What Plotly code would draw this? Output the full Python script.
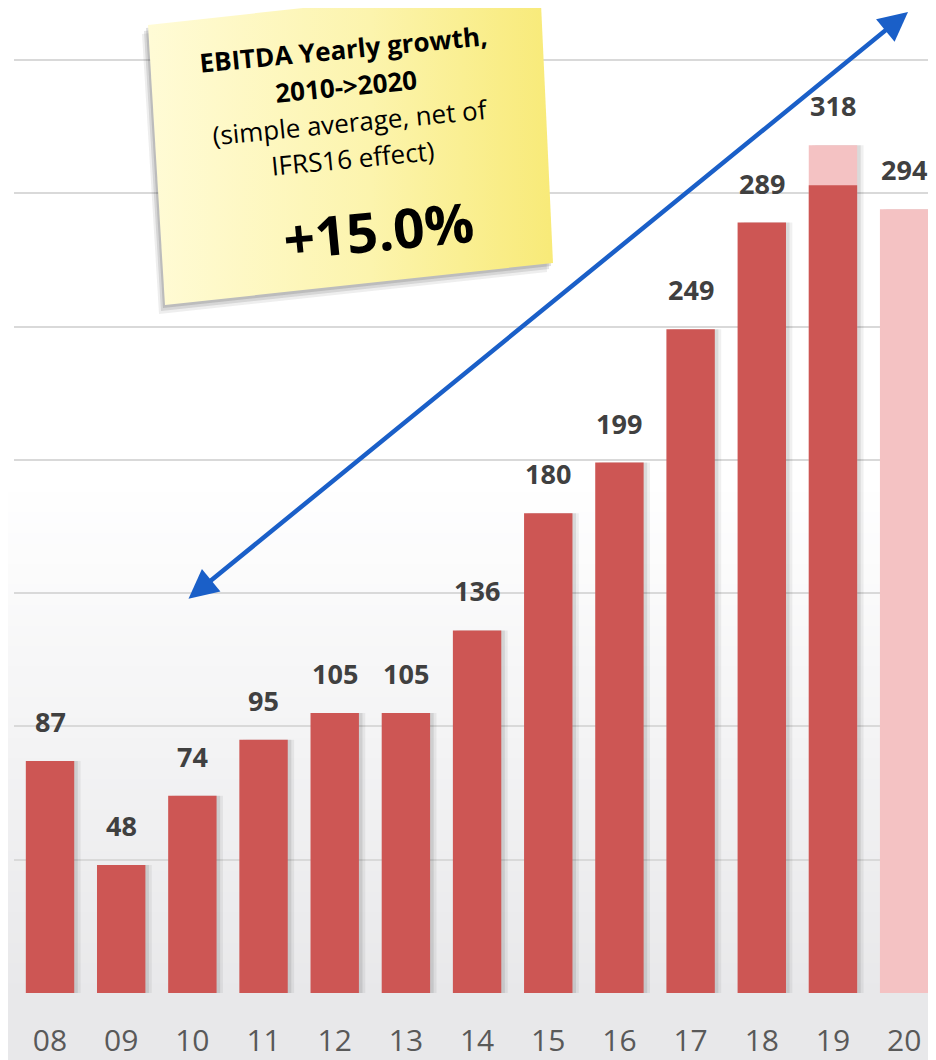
import plotly.graph_objects as go

# ---- data ----
years = ["08", "09", "10", "11", "12", "13", "14", "15", "16", "17", "18", "19", "20"]
ebitda_net = [87, 48, 74, 95, 105, 105, 136, 180, 199, 249, 289, 303, None]   # net of IFRS16 (dark)
ebitda_total = [87, 48, 74, 95, 105, 105, 136, 180, 199, 249, 289, 318, 294]  # reported (labels)
light_years = ["19", "20"]
light_values = [318, 294]

# page body adds an 8px offset; figure pixels = reference pixels - 8
OFF = 8
W, H = 936, 1060
ML, MR, MT, MB = 6, 0, 0, 75
XR = (-0.506, 12.56)
YR = (0, 369.5)
pw, ph = W - ML - MR, H - MT - MB
sx = pw / (XR[1] - XR[0])
sy = ph / (YR[1] - YR[0])


def px2x(px):
    return (px - OFF - ML) / sx + XR[0]


def px2y(py):
    return (H - MB - (py - OFF)) / sy


xi = list(range(len(years)))
light_x = [years.index(y) for y in light_years]

DARK = "#cd5654"
LIGHT = "#f4c2c3"

fig = go.Figure()

# background gradient (paper bands, bottom grey -> white at mid height)
shapes = []
n = 50
top_c = (255, 255, 255)
bot_c = (232, 232, 234)
span = 0.52
for i in range(n):
    y0 = span * i / n
    y1 = span * (i + 1) / n
    t = (i + 0.5) / n
    c = tuple(round(bot_c[k] + (top_c[k] - bot_c[k]) * t) for k in range(3))
    shapes.append(dict(type="rect", xref="paper", yref="paper", x0=-0.05, x1=1.05,
                       y0=y0 - 0.001 - (0.2 if i == 0 else 0), y1=y1 + 0.001,
                       fillcolor="rgb(%d,%d,%d)" % c, line=dict(width=0), layer="below"))

bw = 0.68
# bar shadows (soft, two layers)
for off, a in [(0.09, 0.06), (0.05, 0.09)]:
    fig.add_trace(go.Bar(x=xi, y=ebitda_total, width=bw, offset=-bw / 2 + off,
                         marker=dict(color="rgba(0,0,0,%.2f)" % a, line=dict(width=0)),
                         hoverinfo="skip", showlegend=False))
# light (IFRS16-inclusive) bars
fig.add_trace(go.Bar(x=light_x, y=light_values, width=bw, offset=-bw / 2,
                     marker=dict(color=LIGHT, line=dict(width=0)), showlegend=False))
# dark bars
fig.add_trace(go.Bar(x=xi, y=ebitda_net, width=bw, offset=-bw / 2,
                     marker=dict(color=DARK, line=dict(width=0)), showlegend=False))

# sticky note (reference pixel corners)
note_px = [(148, 25), (540, -18), (553, 263), (165, 305)]
for dx, dy, a in [(-6, 9, 0.08), (-4, 6, 0.12), (-2, 3, 0.15)]:
    sp = [(x + dx, y + dy) for x, y in note_px]
    fig.add_trace(go.Scatter(x=[px2x(p[0]) for p in sp] + [px2x(sp[0][0])],
                             y=[px2y(p[1]) for p in sp] + [px2y(sp[0][1])],
                             mode="lines", fill="toself", line=dict(width=0),
                             fillcolor="rgba(40,40,40,%.2f)" % a, hoverinfo="skip", showlegend=False))
fig.add_trace(go.Scatter(x=[px2x(p[0]) for p in note_px] + [px2x(note_px[0][0])],
                         y=[px2y(p[1]) for p in note_px] + [px2y(note_px[0][1])],
                         mode="lines", fill="toself", line=dict(width=0),
                         fillgradient=dict(type="horizontal",
                                           colorscale=[[0, "#fffbd6"], [0.55, "#fcf4ad"], [1, "#f8ea78"]]),
                         hoverinfo="skip", showlegend=False))

annotations = []
# value labels
for i, v in enumerate(ebitda_total):
    annotations.append(dict(x=i, y=v, text="<b>%d</b>" % v, showarrow=False, yanchor="bottom",
                            yshift=19, font=dict(family="Open Sans", size=27, color="#404040")))

# note text lines (text, ref px x, ref px y, bold, size)
note_lines = [
    ("EBITDA Yearly growth,", 343, 49, True, 26),
    ("2010->2020", 346, 86, True, 26),
    ("(simple average, net of", 350, 122, False, 26),
    ("IFRS16 effect)", 353, 158, False, 26),
    ("+15.0%", 378, 229, True, 55),
]
for txt, px, py, bold, fs in note_lines:
    annotations.append(dict(x=px2x(px), y=px2y(py), text=("<b>%s</b>" % txt) if bold else txt,
                            showarrow=False, textangle=-5.5,
                            font=dict(family="Open Sans", size=fs, color="#000000")))

# double-headed growth arrow
annotations.append(dict(x=px2x(908), y=px2y(12), ax=px2x(187), ay=px2y(600),
                        xref="x", yref="y", axref="x", ayref="y", text="", showarrow=True,
                        arrowhead=2, startarrowhead=2, arrowside="end+start",
                        arrowsize=1.3, startarrowsize=1.3, arrowwidth=4.5, arrowcolor="#1a5fc8",
                        standoff=0, startstandoff=0))

fig.update_layout(
    width=W, height=H,
    margin=dict(l=ML, r=MR, t=MT, b=MB, autoexpand=False),
    paper_bgcolor="#ffffff",
    plot_bgcolor="rgba(0,0,0,0)",
    barmode="overlay",
    shapes=shapes,
    annotations=annotations,
    showlegend=False,
    xaxis=dict(range=list(XR), tickmode="array", tickvals=xi, ticktext=years,
               showgrid=False, zeroline=False, showline=False, ticks="",
               ticklabelstandoff=27, automargin=False,
               tickfont=dict(family="Open Sans", size=30, color="#595959")),
    yaxis=dict(range=list(YR), tickvals=[0, 50, 100, 150, 200, 250, 300, 350],
               showticklabels=False, showgrid=True, gridcolor="#d9d9d9", gridwidth=2,
               zeroline=False, showline=False, automargin=False),
)

fig.write_html("out.html")
